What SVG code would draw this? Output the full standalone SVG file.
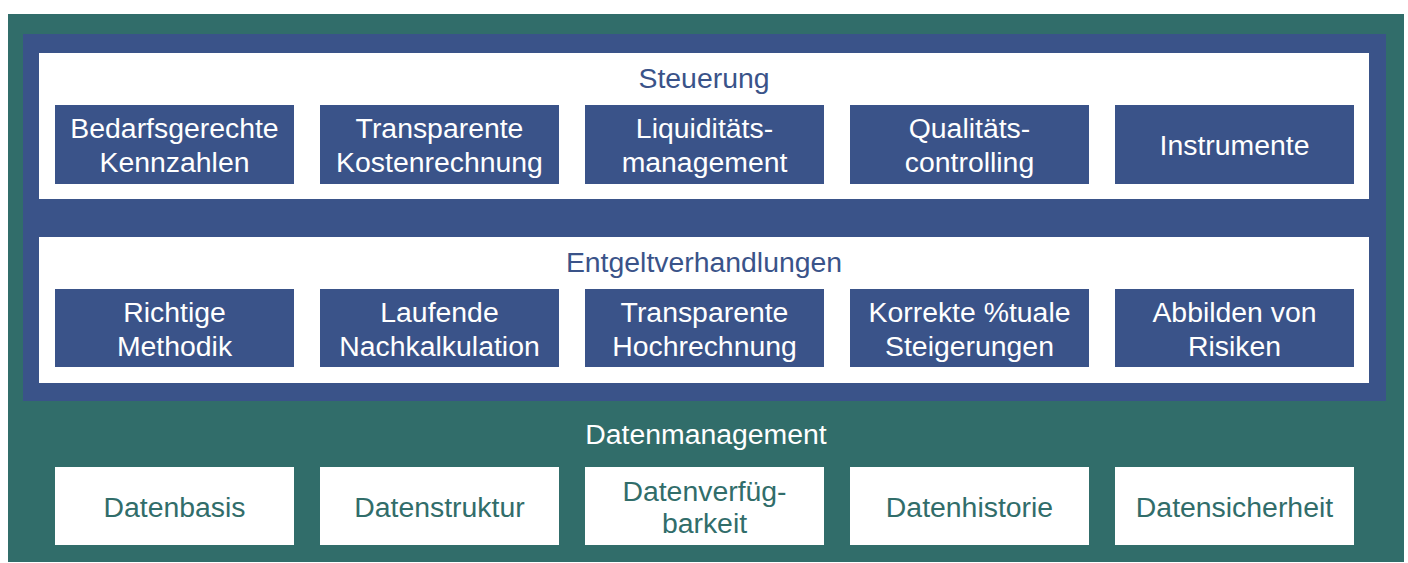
<svg xmlns="http://www.w3.org/2000/svg" width="1408" height="563" viewBox="0 0 1408 563">
  <style>
    text { font-family: "Liberation Sans", Arial, sans-serif; font-size: 28.4px; text-anchor: middle; }
    .teal { fill: #316d6a; }
    .blue { fill: #3a5389; }
    .white { fill: #ffffff; }
    .t-white { fill: #ffffff; }
    .t-blue { fill: #3a5389; }
    .t-teal { fill: #316d6a; }
  </style>
  <rect width="1408" height="563" fill="#ffffff"/>

  <!-- outer frame: Datenmanagement -->
  <g id="datenmanagement">
    <rect class="teal" x="8" y="14" width="1396" height="548"/>
    <text class="t-white" x="706" y="444">Datenmanagement</text>
  </g>

  <!-- inner frame -->
  <rect class="blue" x="23" y="34" width="1363" height="367"/>

  <!-- Steuerung panel -->
  <g id="steuerung">
    <rect class="white" x="39" y="53" width="1330" height="146"/>
    <text class="t-blue" x="704" y="88">Steuerung</text>
  </g>
  <g id="kennzahlen">
    <rect class="blue" x="55" y="105" width="239" height="79"/>
    <text class="t-white" x="174.5" y="138">Bedarfsgerechte</text>
    <text class="t-white" x="174.5" y="172">Kennzahlen</text>
  </g>
  <g id="kostenrechnung">
    <rect class="blue" x="320" y="105" width="239" height="79"/>
    <text class="t-white" x="439.5" y="138">Transparente</text>
    <text class="t-white" x="439.5" y="172">Kostenrechnung</text>
  </g>
  <g id="liquiditaet">
    <rect class="blue" x="585" y="105" width="239" height="79"/>
    <text class="t-white" x="704.5" y="138">Liquiditäts-</text>
    <text class="t-white" x="704.5" y="172">management</text>
  </g>
  <g id="qualitaet">
    <rect class="blue" x="850" y="105" width="239" height="79"/>
    <text class="t-white" x="969.5" y="138">Qualitäts-</text>
    <text class="t-white" x="969.5" y="172">controlling</text>
  </g>
  <g id="instrumente">
    <rect class="blue" x="1115" y="105" width="239" height="79"/>
    <text class="t-white" x="1234.5" y="155">Instrumente</text>
  </g>

  <!-- Entgeltverhandlungen panel -->
  <g id="entgelt">
    <rect class="white" x="39" y="237" width="1330" height="146"/>
    <text class="t-blue" x="704" y="272">Entgeltverhandlungen</text>
  </g>
  <g id="methodik">
    <rect class="blue" x="55" y="289" width="239" height="78"/>
    <text class="t-white" x="174.5" y="322">Richtige</text>
    <text class="t-white" x="174.5" y="356">Methodik</text>
  </g>
  <g id="nachkalkulation">
    <rect class="blue" x="320" y="289" width="239" height="78"/>
    <text class="t-white" x="439.5" y="322">Laufende</text>
    <text class="t-white" x="439.5" y="356">Nachkalkulation</text>
  </g>
  <g id="hochrechnung">
    <rect class="blue" x="585" y="289" width="239" height="78"/>
    <text class="t-white" x="704.5" y="322">Transparente</text>
    <text class="t-white" x="704.5" y="356">Hochrechnung</text>
  </g>
  <g id="steigerungen">
    <rect class="blue" x="850" y="289" width="239" height="78"/>
    <text class="t-white" x="969.5" y="322">Korrekte %tuale</text>
    <text class="t-white" x="969.5" y="356">Steigerungen</text>
  </g>
  <g id="risiken">
    <rect class="blue" x="1115" y="289" width="239" height="78"/>
    <text class="t-white" x="1234.5" y="322">Abbilden von</text>
    <text class="t-white" x="1234.5" y="356">Risiken</text>
  </g>

  <!-- Datenmanagement row -->
  <g id="datenbasis">
    <rect class="white" x="55" y="467" width="239" height="78"/>
    <text class="t-teal" x="174.5" y="517">Datenbasis</text>
  </g>
  <g id="datenstruktur">
    <rect class="white" x="320" y="467" width="239" height="78"/>
    <text class="t-teal" x="439.5" y="517">Datenstruktur</text>
  </g>
  <g id="verfuegbarkeit">
    <rect class="white" x="585" y="467" width="239" height="78"/>
    <text class="t-teal" x="704.5" y="501">Datenverfüg-</text>
    <text class="t-teal" x="704.5" y="533">barkeit</text>
  </g>
  <g id="datenhistorie">
    <rect class="white" x="850" y="467" width="239" height="78"/>
    <text class="t-teal" x="969.5" y="517">Datenhistorie</text>
  </g>
  <g id="datensicherheit">
    <rect class="white" x="1115" y="467" width="239" height="78"/>
    <text class="t-teal" x="1234.5" y="517">Datensicherheit</text>
  </g>

  <!-- no connectors in this diagram -->
  <g id="connectors"/>
</svg>
